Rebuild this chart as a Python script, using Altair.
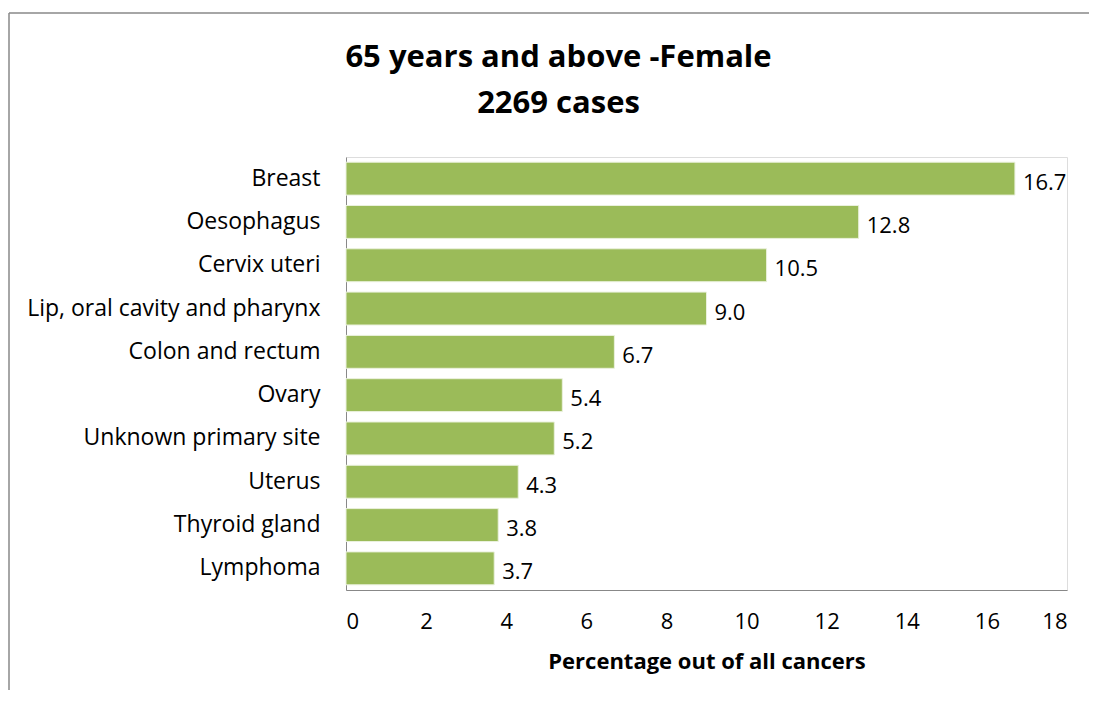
import altair as alt
import pandas as pd

sites = ["Breast", "Oesophagus", "Cervix uteri", "Lip, oral cavity and pharynx",
         "Colon and rectum", "Ovary", "Unknown primary site", "Uterus",
         "Thyroid gland", "Lymphoma"]
percent = [16.7, 12.8, 10.5, 9.0, 6.7, 5.4, 5.2, 4.3, 3.8, 3.7]
labels = [f"{v:.1f}" for v in percent]

df = pd.DataFrame({"site": sites, "pct": percent, "label": labels})

FONT = "Open Sans"

y_enc = alt.Y("site:N", sort=sites, title=None,
              scale=alt.Scale(paddingInner=0.24, paddingOuter=0.12),
              axis=alt.Axis(labelFontSize=23, labelFont=FONT, labelColor="#000",
                            ticks=False, labelPadding=26, domainColor="#888",
                            labelLimit=400))
x_enc = alt.X("pct:Q", title="Percentage out of all cancers",
              scale=alt.Scale(domain=[0, 18], nice=False),
              axis=alt.Axis(values=list(range(0, 19, 2)), grid=False, ticks=False,
                            labelFontSize=22, labelFont=FONT, labelColor="#000",
                            labelPadding=21, domainColor="#888",
                            titleFontSize=22, titleFont=FONT, titleFontWeight="bold",
                            titleColor="#000", titlePadding=19))

bars = alt.Chart(df).mark_bar(color="#9BBB59", stroke="#EAF1DD", strokeWidth=1).encode(
    x=x_enc, y=y_enc)

text = alt.Chart(df).mark_text(align="left", baseline="middle", dx=8, dy=4,
                               fontSize=22, font=FONT, color="#000").encode(
    x="pct:Q", y=alt.Y("site:N", sort=sites), text="label:N")

frame_df = pd.DataFrame({"k": [0]})
top_line = alt.Chart(frame_df).mark_rule(color="#898989", strokeWidth=1.5).encode(
    x=alt.value(-337), x2=alt.value(770), y=alt.value(-144))
left_line = alt.Chart(frame_df).mark_rule(color="#898989", strokeWidth=1.5).encode(
    x=alt.value(-337), y=alt.value(-144), y2=alt.value(560))

chart = alt.layer(bars, text, top_line, left_line).properties(
    width=721, height=433,
    autosize=alt.AutoSizeParams(type="none"),
    padding={"left": 338, "top": 149, "right": 22, "bottom": 100},
    title=alt.TitleParams(["65 years and above -Female", "2269 cases"],
                          fontSize=31, font=FONT, fontWeight="bold", color="#000",
                          anchor="middle", dx=-148, dy=126, offset=18, lineHeight=46),
).configure_view(stroke="#000", strokeWidth=1.5).configure(background="white")

chart.save("out.html", embed_options={"renderer": "svg", "actions": False})
